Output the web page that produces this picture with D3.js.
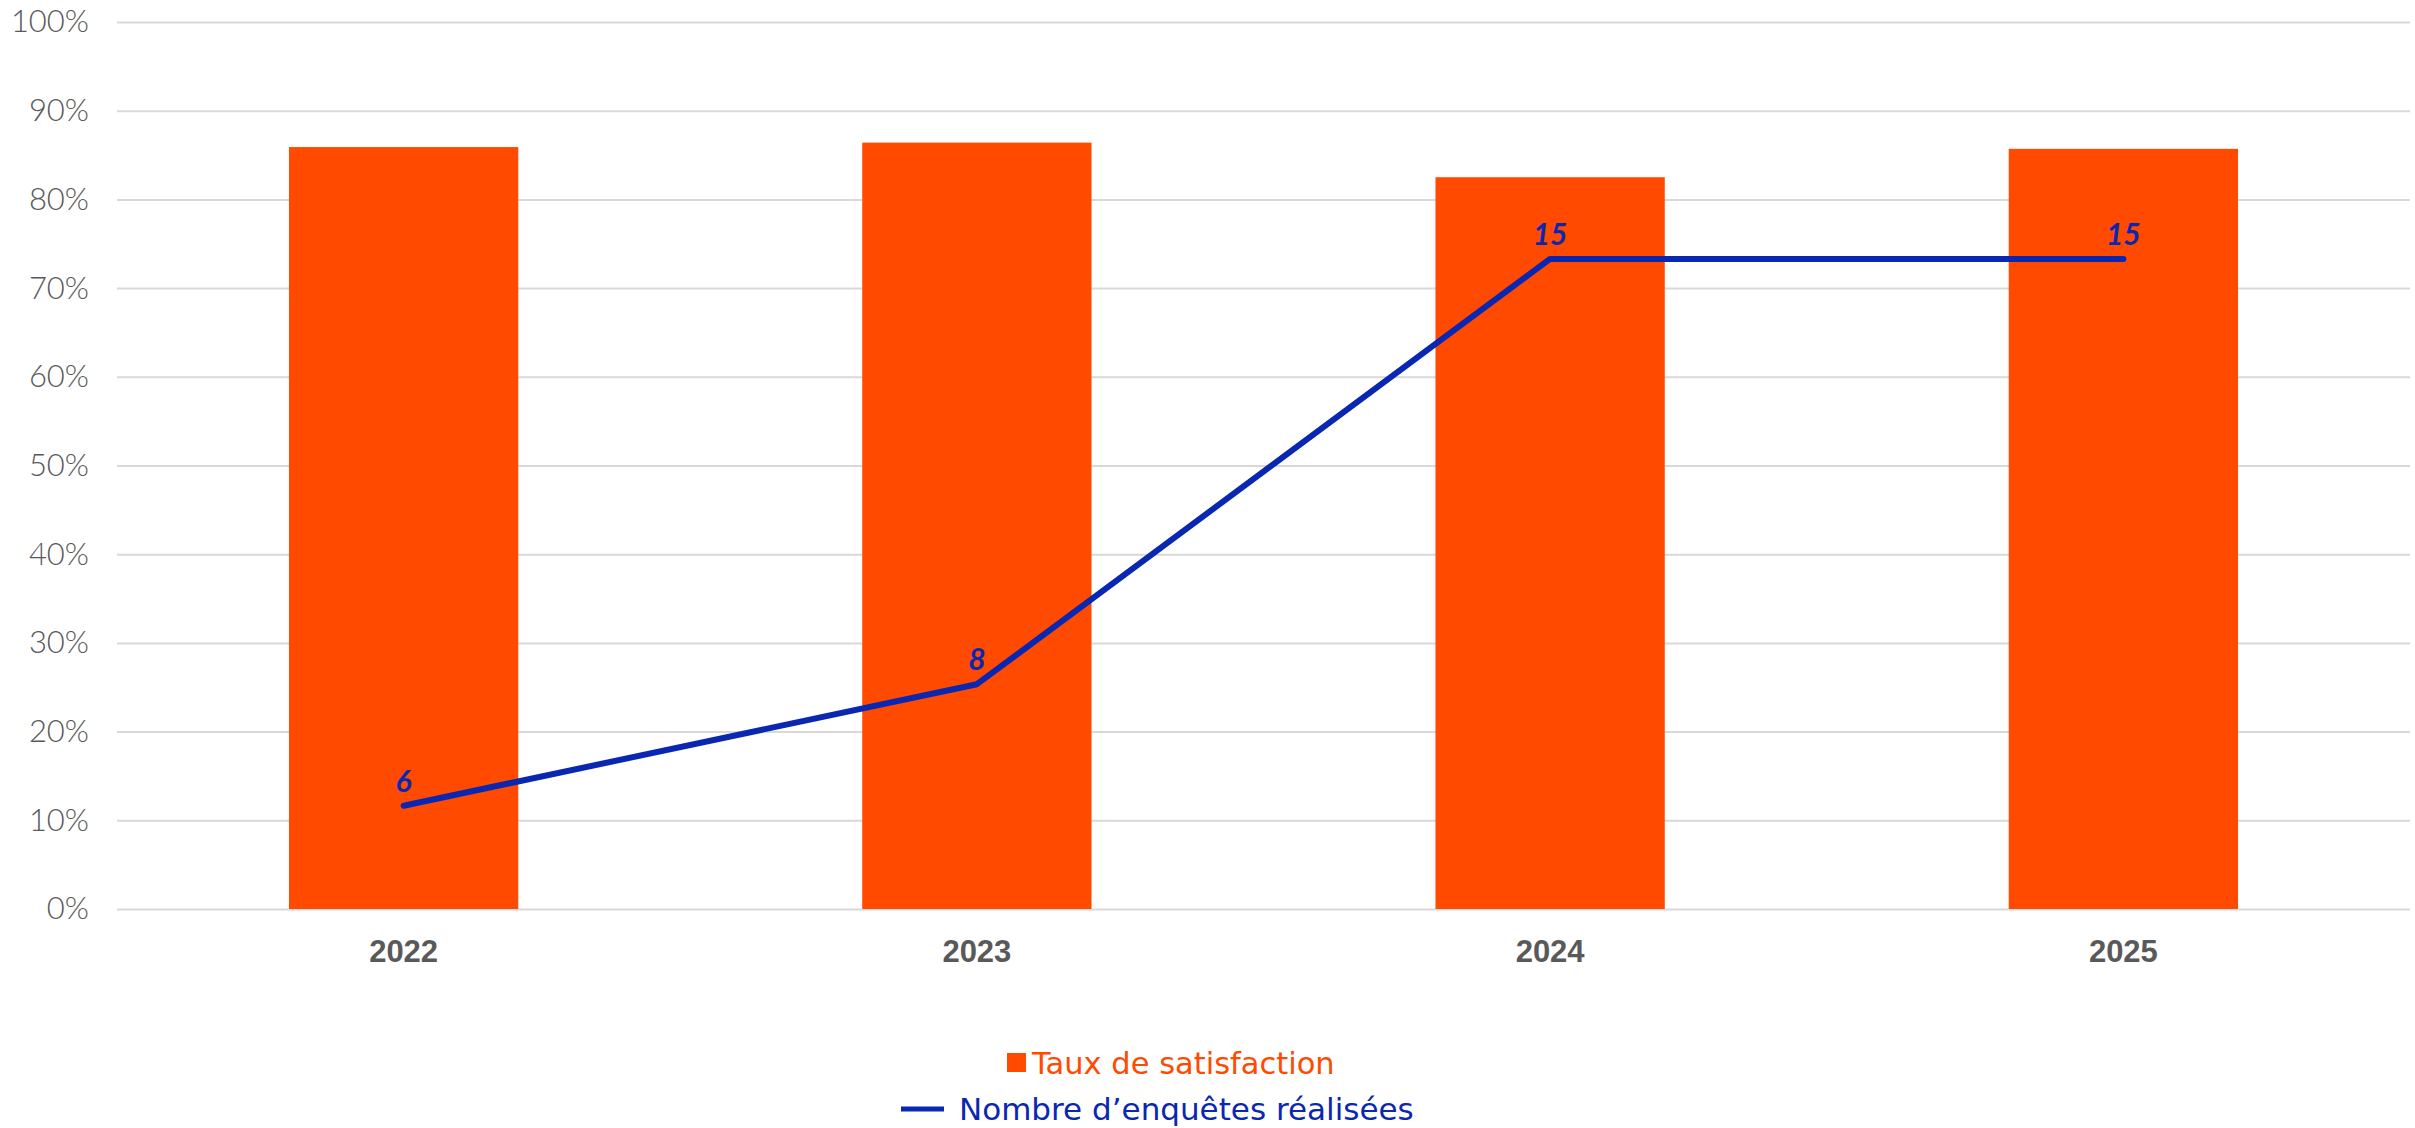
<!DOCTYPE html>
<html>
<head>
<meta charset="utf-8">
<script src="https://cdn.jsdelivr.net/npm/d3@7"></script>
<style>
  html, body { margin: 0; padding: 0; background: #ffffff; }
  svg { display: block; }
  text { font-family: "Century Gothic", "Lato", "Liberation Sans", sans-serif; }
</style>
</head>
<body>
<svg id="chart" width="2415" height="1128"></svg>
<script>
// ---- data ----
const categories = ["2022", "2023", "2024", "2025"];
const satisfaction = [0.859, 0.864, 0.825, 0.857];      // Taux de satisfaction
const surveys = [6, 8, 15, 15];                          // Nombre d'enquêtes réalisées
const yTicks = [0, 0.1, 0.2, 0.3, 0.4, 0.5, 0.6, 0.7, 0.8, 0.9, 1.0];
const seriesNames = ["Taux de satisfaction", "Nombre d\u2019enquêtes réalisées"];

// ---- layout ----
const W = 2415, H = 1128;
const plot = { left: 117, right: 2410, top: 22, bottom: 909 };
const barColor = "#FF4A00";
const lineColor = "#0A27B2";
const gridColor = "#D9D9D9";
const axisText = "#595959";
const legendFont = "'DejaVu Sans', 'Century Gothic', sans-serif";

const svg = d3.select("#chart");

const x = d3.scaleBand()
  .domain(categories)
  .range([plot.left, plot.right])
  .paddingInner(0.6)
  .paddingOuter(0.3);

const y = d3.scaleLinear().domain([0, 1]).range([plot.bottom, plot.top]);
const y2 = d3.scaleLinear().domain([4.3, 18.9]).range([plot.bottom, plot.top]);

// gridlines
svg.append("g")
  .attr("transform", `translate(${plot.left},0)`)
  .call(d3.axisLeft(y).tickValues(yTicks).tickSize(-(plot.right - plot.left)).tickFormat(""))
  .call(g => g.select(".domain").remove())
  .call(g => g.selectAll("line").attr("stroke", gridColor).attr("stroke-width", 2));

// y axis labels
svg.append("g")
  .attr("transform", `translate(89,0)`)
  .call(d3.axisLeft(y).tickValues(yTicks).tickSize(0).tickPadding(0).tickFormat(d3.format(".0%")))
  .call(g => g.select(".domain").remove())
  .call(g => g.selectAll("text")
    .attr("fill", axisText)
    .attr("font-size", 31)
    .attr("font-weight", 300)
    .style("font-family", "'Century Gothic', Lato, 'Liberation Sans', sans-serif"));

// bars
svg.append("g").selectAll("rect")
  .data(categories)
  .join("rect")
  .attr("x", d => x(d))
  .attr("width", x.bandwidth())
  .attr("y", (d, i) => y(satisfaction[i]))
  .attr("height", (d, i) => y(0) - y(satisfaction[i]))
  .attr("fill", barColor);

// x axis labels
svg.append("g")
  .attr("transform", `translate(0,${plot.bottom})`)
  .call(d3.axisBottom(x).tickSize(0).tickPadding(31))
  .call(g => g.select(".domain").remove())
  .call(g => g.selectAll("text")
    .attr("fill", axisText)
    .attr("font-size", 31)
    .attr("font-weight", "bold")
    .style("font-family", "'Liberation Sans', Arial, sans-serif"));

// line
const cx = d => x(d) + x.bandwidth() / 2;
const line = d3.line()
  .x((d, i) => cx(categories[i]))
  .y(d => y2(d));
svg.append("path")
  .datum(surveys)
  .attr("d", line)
  .attr("fill", "none")
  .attr("stroke", lineColor)
  .attr("stroke-width", 6)
  .attr("stroke-linecap", "round")
  .attr("stroke-linejoin", "round");

// data labels
svg.append("g").selectAll("text")
  .data(surveys)
  .join("text")
  .attr("x", (d, i) => cx(categories[i]))
  .attr("y", d => y2(d) - 14)
  .attr("text-anchor", "middle")
  .attr("fill", lineColor)
  .attr("font-size", 30)
  .attr("font-weight", "bold")
  .attr("font-style", "italic")
  .text(d => d);

// legend
const leg = svg.append("g");
leg.append("rect")
  .attr("x", 1007).attr("y", 1053).attr("width", 19).attr("height", 19)
  .attr("fill", barColor);
leg.append("text")
  .attr("x", 1032).attr("y", 1074)
  .attr("fill", barColor)
  .attr("font-size", 30.5)
  .style("font-family", legendFont)
  .text(seriesNames[0]);
leg.append("line")
  .attr("x1", 901).attr("x2", 944).attr("y1", 1109).attr("y2", 1109)
  .attr("stroke", lineColor).attr("stroke-width", 5);
leg.append("text")
  .attr("x", 959).attr("y", 1120)
  .attr("fill", lineColor)
  .attr("font-size", 31)
  .style("font-family", legendFont)
  .text(seriesNames[1]);
</script>
</body>
</html>
